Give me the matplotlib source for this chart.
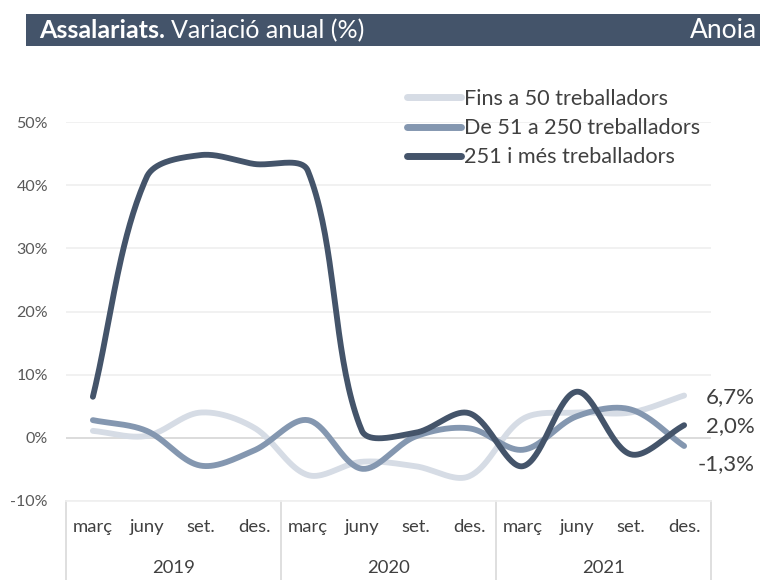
import numpy as np
import matplotlib
matplotlib.use("Agg")
import matplotlib.pyplot as plt
from matplotlib.patches import Rectangle
from matplotlib.lines import Line2D
import matplotlib.transforms as mtransforms

plt.rcParams['font.family'] = ['Lato', 'DejaVu Sans']

# ---------------- data ----------------
years = ['2019', '2020', '2021']
months = ['març', 'juny', 'set.', 'des.']
series_names = ['Fins a 50 treballadors', 'De 51 a 250 treballadors', '251 i més treballadors']
fins50 = [1.1, 0.3, 4.0, 1.6, -5.9, -3.8, -4.5, -6.1, 3.0, 4.0, 4.0, 6.7]
de51a250 = [2.8, 1.1, -4.4, -2.0, 2.8, -4.9, 0.2, 1.5, -1.9, 3.4, 4.5, -1.3]
mes251 = [6.5, 41.3, 44.8, 43.4, 42.3, 1.2, 0.8, 3.9, -4.5, 7.3, -2.6, 2.0]
yticks = [-10, 0, 10, 20, 30, 40, 50]

colors = ['#D6DCE5', '#8497B0', '#44546A']
text_col = '#404040'


def excel_smooth(xs, ys, sx, sy, n=40):
    P = np.column_stack([np.asarray(xs, float) * sx, np.asarray(ys, float) * sy])
    pts = []
    m = len(P)
    for i in range(m - 1):
        p0, p3 = P[i], P[i + 1]
        prev = P[i - 1] if i > 0 else P[i]
        nxt = P[i + 2] if i + 2 < m else P[i + 1]
        la = np.linalg.norm(P[i] - prev)
        lb = np.linalg.norm(p3 - p0)
        lc = np.linalg.norm(nxt - p3)
        c1 = p0 + (p3 - prev) / 3.0 * (lb / (la + lb))
        c2 = p3 - (nxt - p0) / 3.0 * (lb / (lb + lc))
        t = np.linspace(0, 1, n)[:, None]
        seg = ((1 - t) ** 3) * p0 + 3 * ((1 - t) ** 2) * t * c1 + 3 * (1 - t) * t ** 2 * c2 + t ** 3 * p3
        pts.append(seg if i == 0 else seg[1:])
    pts = np.vstack(pts)
    return pts[:, 0] / sx, pts[:, 1] / sy


W, H = 760, 580
fig = plt.figure(figsize=(W / 100, H / 100), dpi=100)

ax_l, ax_r = 66, 711
ax_top, ax_bot = 122.3, 500.9
ax = fig.add_axes([ax_l / W, 1 - ax_bot / H, (ax_r - ax_l) / W, (ax_bot - ax_top) / H])

x = np.arange(len(years) * len(months))
ax.set_xlim(-0.5, len(x) - 0.5)
ax.set_ylim(-10, 50)

sx = (ax_r - ax_l) / len(x)
sy = (ax_bot - ax_top) / 60.0

for vals, col, name in zip([fins50, de51a250, mes251], colors, series_names):
    cx, cy = excel_smooth(x, vals, sx, sy)
    ax.plot(cx, cy, color=col, lw=4.2, solid_capstyle='round', label=name, zorder=3)

# grid
ax.set_yticks(yticks)
ax.set_yticklabels([f'{v}%' for v in yticks], color='#595959', fontsize=11.5)
for v in yticks:
    ax.axhline(v, color='#D9D9D9' if v == 0 else '#F0F0F0', lw=1.3, zorder=1)
ax.tick_params(axis='y', length=0, pad=13)
ax.set_xticks([])
for s in ax.spines.values():
    s.set_visible(False)

# category axis (table style)
trans = mtransforms.blended_transform_factory(ax.transData, ax.transAxes)
hpx = ax_bot - ax_top
y_bottom = -(H - ax_bot) / hpx
for i in range(len(years) + 1):
    xs = -0.5 + i * len(months)
    ax.add_line(Line2D([xs, xs], [0, y_bottom], transform=trans, color='#D9D9D9', lw=1.2, clip_on=False))
ax.add_line(Line2D([-0.5, len(x) - 0.5], [0, 0], transform=trans, color='#EFEFEF', lw=1.2, clip_on=False))
for j, yr in enumerate(years):
    for k, mname in enumerate(months):
        ax.text(j * len(months) + k, -(527 - ax_bot) / hpx, mname, transform=trans, ha='center',
                va='center', fontsize=13.3, color=text_col)
    ax.text(j * len(months) + (len(months) - 1) / 2, -(568 - ax_bot) / hpx, yr,
            transform=trans, ha='center', va='center', fontsize=13.3, color=text_col)

# legend
leg = ax.legend(loc='upper left', bbox_to_anchor=(407 / W, 1 - 89 / H), bbox_transform=fig.transFigure,
                frameon=False, fontsize=15.6, handlelength=2.5, handletextpad=0.15, labelspacing=0.42,
                borderaxespad=0, borderpad=0)
for t in leg.get_texts():
    t.set_color(text_col)
for h in leg.get_lines():
    h.set_linewidth(5)
    h.set_solid_capstyle('round')

# end labels
end_vals = [fins50[-1], mes251[-1], de51a250[-1]]
end_offsets = [-1, -1, -13]
for v, off in zip(end_vals, end_offsets):
    txt = f'{v:.1f}%'.replace('.', ',')
    ax.annotate(txt, xy=(755 / W, v), xycoords=(fig.transFigure, ax.transData),
                xytext=(0, off), textcoords='offset points', ha='right', va='center',
                fontsize=16, color=text_col, annotation_clip=False)

# title bar
fig.patches.append(Rectangle((26 / W, 1 - 46 / H), 1 - 26 / W, 32 / H, transform=fig.transFigure,
                             facecolor='#44546A', edgecolor='none', zorder=0))
t1 = fig.text(39 / W, 1 - 31 / H, 'Assalariats.', color='white', fontsize=18, fontweight='bold',
              ha='left', va='center')
fig.canvas.draw()
bb = t1.get_window_extent()
fig.text((bb.x1 + 6) / W, 1 - 31 / H, 'Variació anual (%)', color='white', fontsize=18,
         ha='left', va='center')
fig.text(757 / W, 1 - 31 / H, 'Anoia', color='white', fontsize=19, ha='right', va='center')

fig.savefig('out.png', dpi=100)
